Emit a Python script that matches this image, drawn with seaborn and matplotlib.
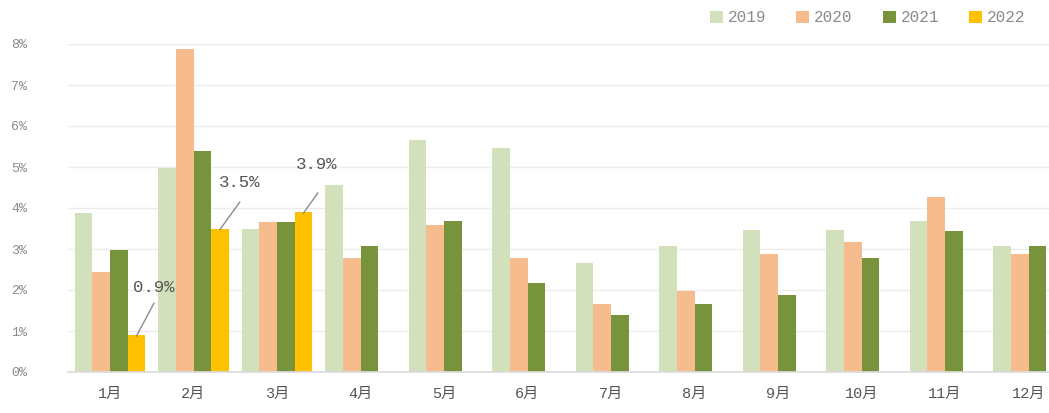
import matplotlib
matplotlib.use("Agg")
import matplotlib.pyplot as plt
import seaborn as sns
import pandas as pd

# Monthly share values (%) per year
months = ["1月", "2月", "3月", "4月", "5月", "6月", "7月", "8月", "9月", "10月", "11月", "12月"]
years = ["2019", "2020", "2021", "2022"]
v2019 = [3.88, 4.98, 3.49, 4.57, 5.65, 5.47, 2.67, 3.07, 3.47, 3.47, 3.68, 3.07]
v2020 = [2.45, 7.87, 3.67, 2.78, 3.58, 2.78, 1.65, 1.98, 2.87, 3.17, 4.28, 2.87]
v2021 = [2.98, 5.38, 3.67, 3.08, 3.68, 2.17, 1.38, 1.65, 1.87, 2.78, 3.43, 3.07]
v2022 = [0.9, 3.5, 3.9]
yticks = [0, 1, 2, 3, 4, 5, 6, 7, 8]

colors = ["#D3E0BC", "#F7BC8D", "#77933C", "#FFC000"]

rows = []
for year, vals in zip(years, [v2019, v2020, v2021, v2022]):
    for m, v in zip(months, vals):
        rows.append({"month": m, "year": year, "value": v})
df = pd.DataFrame(rows)

sns.set_theme(style="white")
plt.rcParams["font.family"] = ["Liberation Mono", "Noto Sans CJK SC", "DejaVu Sans"]

fig = plt.figure(figsize=(10.49, 4.13), dpi=100)
W, H = 1049, 413
ax = fig.add_axes([68.25 / W, 41 / H, 1002 / W, 328 / H])

sns.barplot(data=df, x="month", y="value", hue="year", order=months,
            hue_order=years, palette=colors, width=0.84, linewidth=0,
            saturation=1, ax=ax, legend=True)

ax.set_ylim(0, 8)
ax.set_xlim(-0.5, 11.5)
ax.set_yticks(yticks)
ax.set_yticklabels([f"{t}%" for t in yticks], color="#8A8A8A", fontsize=9.5)
ax.set_xlabel("")
ax.set_ylabel("")
ax.yaxis.grid(True, color="#ECECEC", linewidth=1)
ax.set_axisbelow(True)
for side in ["left", "right", "top"]:
    ax.spines[side].set_visible(False)
ax.spines["bottom"].set_color("#DCDCDC")
ax.tick_params(axis="x", length=0, pad=11, labelsize=11, labelcolor="#555555")
ax.tick_params(axis="y", length=0, pad=41)
for lbl in ax.get_yticklabels():
    lbl.set_horizontalalignment("left")

# Callout labels for the 2022 bars
bar_w = 0.84 / 4
offset = 1.5 * bar_w
label_pos = [(0.527, 2.07), (1.556, 4.61), (2.475, 5.05)]
line_end = [(0.527, 1.68), (1.556, 4.15), (2.49, 4.37)]
for i, v in enumerate(v2022):
    x0 = i + offset
    ex, ey = line_end[i]
    ax.plot([x0, ex], [v - 0.03, ey], color="#8C8C8C", linewidth=1)
    lx, ly = label_pos[i]
    ax.text(lx, ly, f"{v:.1f}%", ha="center", va="center", fontsize=12.5,
            color="#555555")

handles, labels = ax.get_legend_handles_labels()
ax.legend(handles, labels, loc="center left", bbox_to_anchor=(710 / W, 1 - 18 / H),
          bbox_transform=fig.transFigure, ncol=4, frameon=False, fontsize=11.5,
          handlelength=0.8, handleheight=0.8, handletextpad=0.3,
          columnspacing=1.9, labelcolor="#8A8A8A", borderaxespad=0, borderpad=0)

fig.savefig("out.png", dpi=100)
